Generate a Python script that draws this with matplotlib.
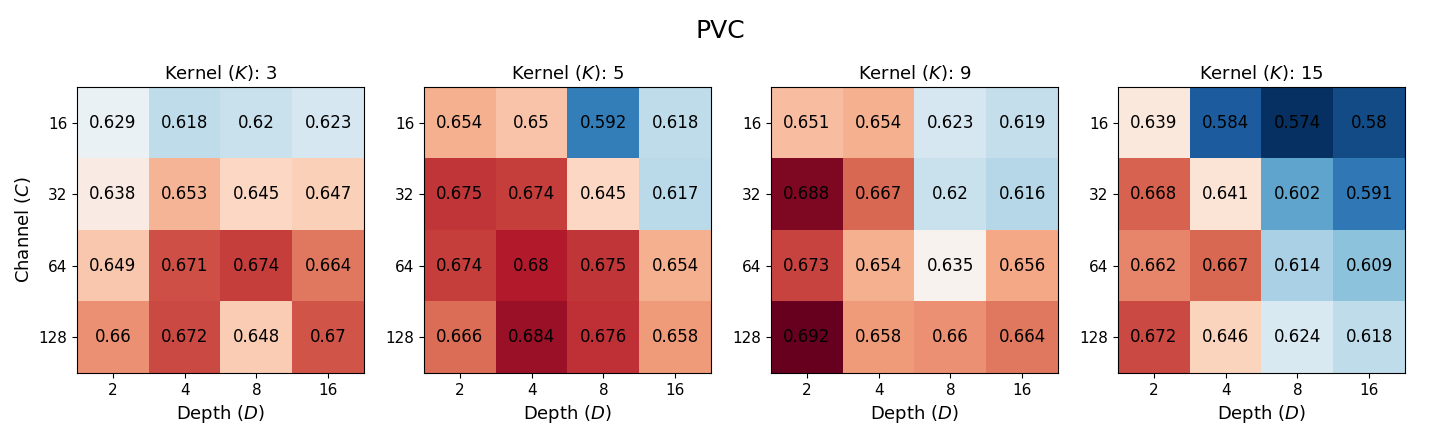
import matplotlib
matplotlib.use("Agg")
import matplotlib.pyplot as plt
import numpy as np

kernels = [3, 5, 9, 15]
depths = ["2", "4", "8", "16"]
channels = ["16", "32", "64", "128"]

k3 = [[0.629, 0.618, 0.62, 0.623],
      [0.638, 0.653, 0.645, 0.647],
      [0.649, 0.671, 0.674, 0.664],
      [0.66, 0.672, 0.648, 0.67]]
k5 = [[0.654, 0.65, 0.592, 0.618],
      [0.675, 0.674, 0.645, 0.617],
      [0.674, 0.68, 0.675, 0.654],
      [0.666, 0.684, 0.676, 0.658]]
k9 = [[0.651, 0.654, 0.623, 0.619],
      [0.688, 0.667, 0.62, 0.616],
      [0.673, 0.654, 0.635, 0.656],
      [0.692, 0.658, 0.66, 0.664]]
k15 = [[0.639, 0.584, 0.574, 0.58],
       [0.668, 0.641, 0.602, 0.591],
       [0.662, 0.667, 0.614, 0.609],
       [0.672, 0.646, 0.624, 0.618]]
data = [k3, k5, k9, k15]

vmin = min(np.min(d) for d in data)
vmax = max(np.max(d) for d in data)

fig = plt.figure(figsize=(14.4, 4.32), dpi=100)
lefts = [77, 424, 771, 1118]
for i, (k, d) in enumerate(zip(kernels, data)):
    ax = fig.add_axes([lefts[i] / 1440, 59 / 432, 287 / 1440, 286 / 432])
    arr = np.array(d)
    ax.imshow(arr, cmap="RdBu_r", vmin=vmin, vmax=vmax, aspect="auto")
    for r in range(arr.shape[0]):
        for c in range(arr.shape[1]):
            ax.text(c, r, f"{arr[r, c]:g}", ha="center", va="center", fontsize=12, color="black")
    ax.set_xticks(range(len(depths)))
    ax.set_xticklabels(depths, fontsize=11)
    ax.set_yticks(range(len(channels)))
    ax.set_yticklabels(channels, fontsize=11)
    ax.set_xlabel("Depth ($D$)", fontsize=13)
    ax.set_title(f"Kernel ($K$): {k}", fontsize=13)
    if i == 0:
        ax.set_ylabel("Channel ($C$)", fontsize=13)

fig.suptitle("PVC", fontsize=18, y=0.955)
fig.savefig("out.png", dpi=100)
